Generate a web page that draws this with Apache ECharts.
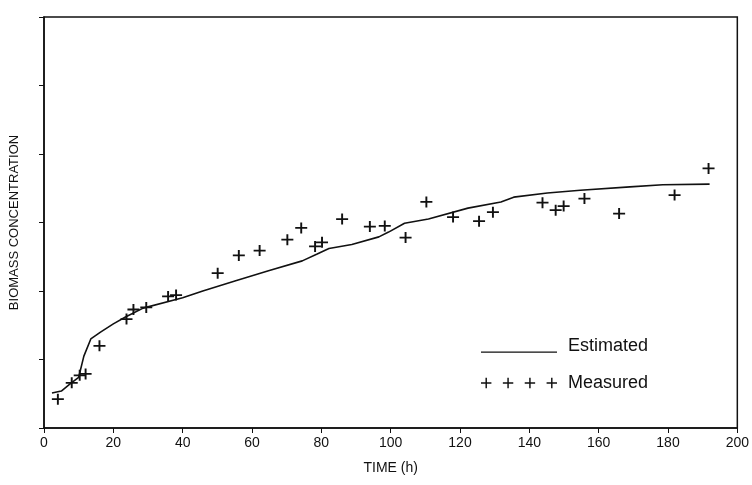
<!DOCTYPE html>
<html>
<head>
<meta charset="utf-8">
<script src="https://cdn.jsdelivr.net/npm/echarts@6/dist/echarts.min.js"></script>
<style>html,body{margin:0;padding:0;background:#fff}#c{width:752px;height:485px}</style>
</head>
<body>
<div id="c"></div>
<script>
const estTime = [2.3, 5, 7.7, 10, 11.5, 13.5, 16.3, 20, 23.5, 28.6, 40, 45.8, 55.3, 65, 74.5, 78.8, 82.2, 88.8, 96.6, 99.4, 104, 110.9, 122.3, 131.8, 135.5, 145.2, 154.7, 169, 178.5, 192];
const estValue = [0.51, 0.54, 0.65, 0.74, 1.05, 1.3, 1.4, 1.52, 1.62, 1.75, 1.9, 2.0, 2.15, 2.3, 2.44, 2.54, 2.62, 2.68, 2.79, 2.86, 2.99, 3.05, 3.21, 3.30, 3.37, 3.43, 3.47, 3.52, 3.55, 3.56];
const measTime = [4, 8, 10.3, 12, 16, 23.8, 25.8, 29.5, 35.8, 38.1, 50.1, 56.2, 62.2, 70.2, 74.2, 78.2, 80.2, 86, 94, 98.3, 104.3, 110.3, 118, 125.5, 129.5, 143.8, 147.6, 149.9, 155.9, 165.9, 181.9, 191.7];
const measValue = [0.42, 0.66, 0.77, 0.79, 1.2, 1.59, 1.73, 1.76, 1.92, 1.94, 2.26, 2.52, 2.59, 2.75, 2.92, 2.65, 2.71, 3.05, 2.94, 2.95, 2.78, 3.30, 3.08, 3.02, 3.15, 3.29, 3.18, 3.24, 3.35, 3.13, 3.40, 3.79];
const xTicks = [0, 20, 40, 60, 80, 100, 120, 140, 160, 180, 200];
const seriesNames = ['Estimated', 'Measured'];

const plus = 'path://M4.2,0H5.8V4.2H10V5.8H5.8V10H4.2V5.8H0V4.2H4.2Z';
const fourPlus = 'path://' +
  [0, 21, 42, 63].map(o => `M${o+4.3},0H${o+5.7}V4.3H${o+10}V5.7H${o+5.7}V10H${o+4.3}V5.7H${o}V4.3H${o+4.3}Z`).join('');
const lineIcon = 'path://M0,0H0.01V0.01H0ZM0,12H75V13.3H0Z';

const chart = echarts.init(document.getElementById('c'), null, {renderer: 'canvas'});
const font = '"Liberation Sans", Arial, sans-serif';
chart.setOption({
  backgroundColor: '#fff',
  animation: false,
  grid: {left: 40, right: 14, top: 17, bottom: 57, show: true, borderColor: '#111', borderWidth: 1.5},
  legend: {
    orient: 'vertical', left: 476, top: 332, itemGap: 19,
    itemWidth: 76, itemHeight: 14,
    textStyle: {fontFamily: font, fontSize: 18, color: '#111', padding: [0, 0, 0, 6]},
    data: [
      {name: seriesNames[0], icon: lineIcon},
      {name: seriesNames[1], icon: fourPlus}
    ]
  },
  xAxis: {
    type: 'value', min: 0, max: 200, interval: 20,
    name: 'TIME (h)', nameLocation: 'middle', nameGap: 33,
    nameTextStyle: {fontFamily: font, fontSize: 14, color: '#111'},
    axisLine: {lineStyle: {color: '#111', width: 1.5}},
    axisTick: {show: true, length: 5, lineStyle: {color: '#111'}},
    axisLabel: {fontFamily: font, fontSize: 14, color: '#111', margin: 8,
      formatter: v => xTicks.includes(v) ? String(v) : ''},
    splitLine: {show: false}
  },
  yAxis: {
    type: 'value', min: 0, max: 6, interval: 1,
    name: 'BIOMASS CONCENTRATION', nameLocation: 'middle', nameGap: 23, nameRotate: 90,
    nameTextStyle: {fontFamily: font, fontSize: 13, color: '#111'},
    axisLine: {lineStyle: {color: '#111', width: 1.5}},
    axisTick: {show: true, length: 5, lineStyle: {color: '#111'}},
    axisLabel: {show: false},
    splitLine: {show: false}
  },
  series: [
    {
      name: seriesNames[0], type: 'line', showSymbol: false, symbol: 'none',
      data: estTime.map((t, i) => [t, estValue[i]]),
      lineStyle: {color: '#111', width: 1.6}, itemStyle: {color: '#111'}
    },
    {
      name: seriesNames[1], type: 'scatter', symbol: plus, symbolSize: [12, 11],
      data: measTime.map((t, i) => [t, measValue[i]]),
      itemStyle: {color: '#111', opacity: 1}
    }
  ]
});
</script>
</body>
</html>
